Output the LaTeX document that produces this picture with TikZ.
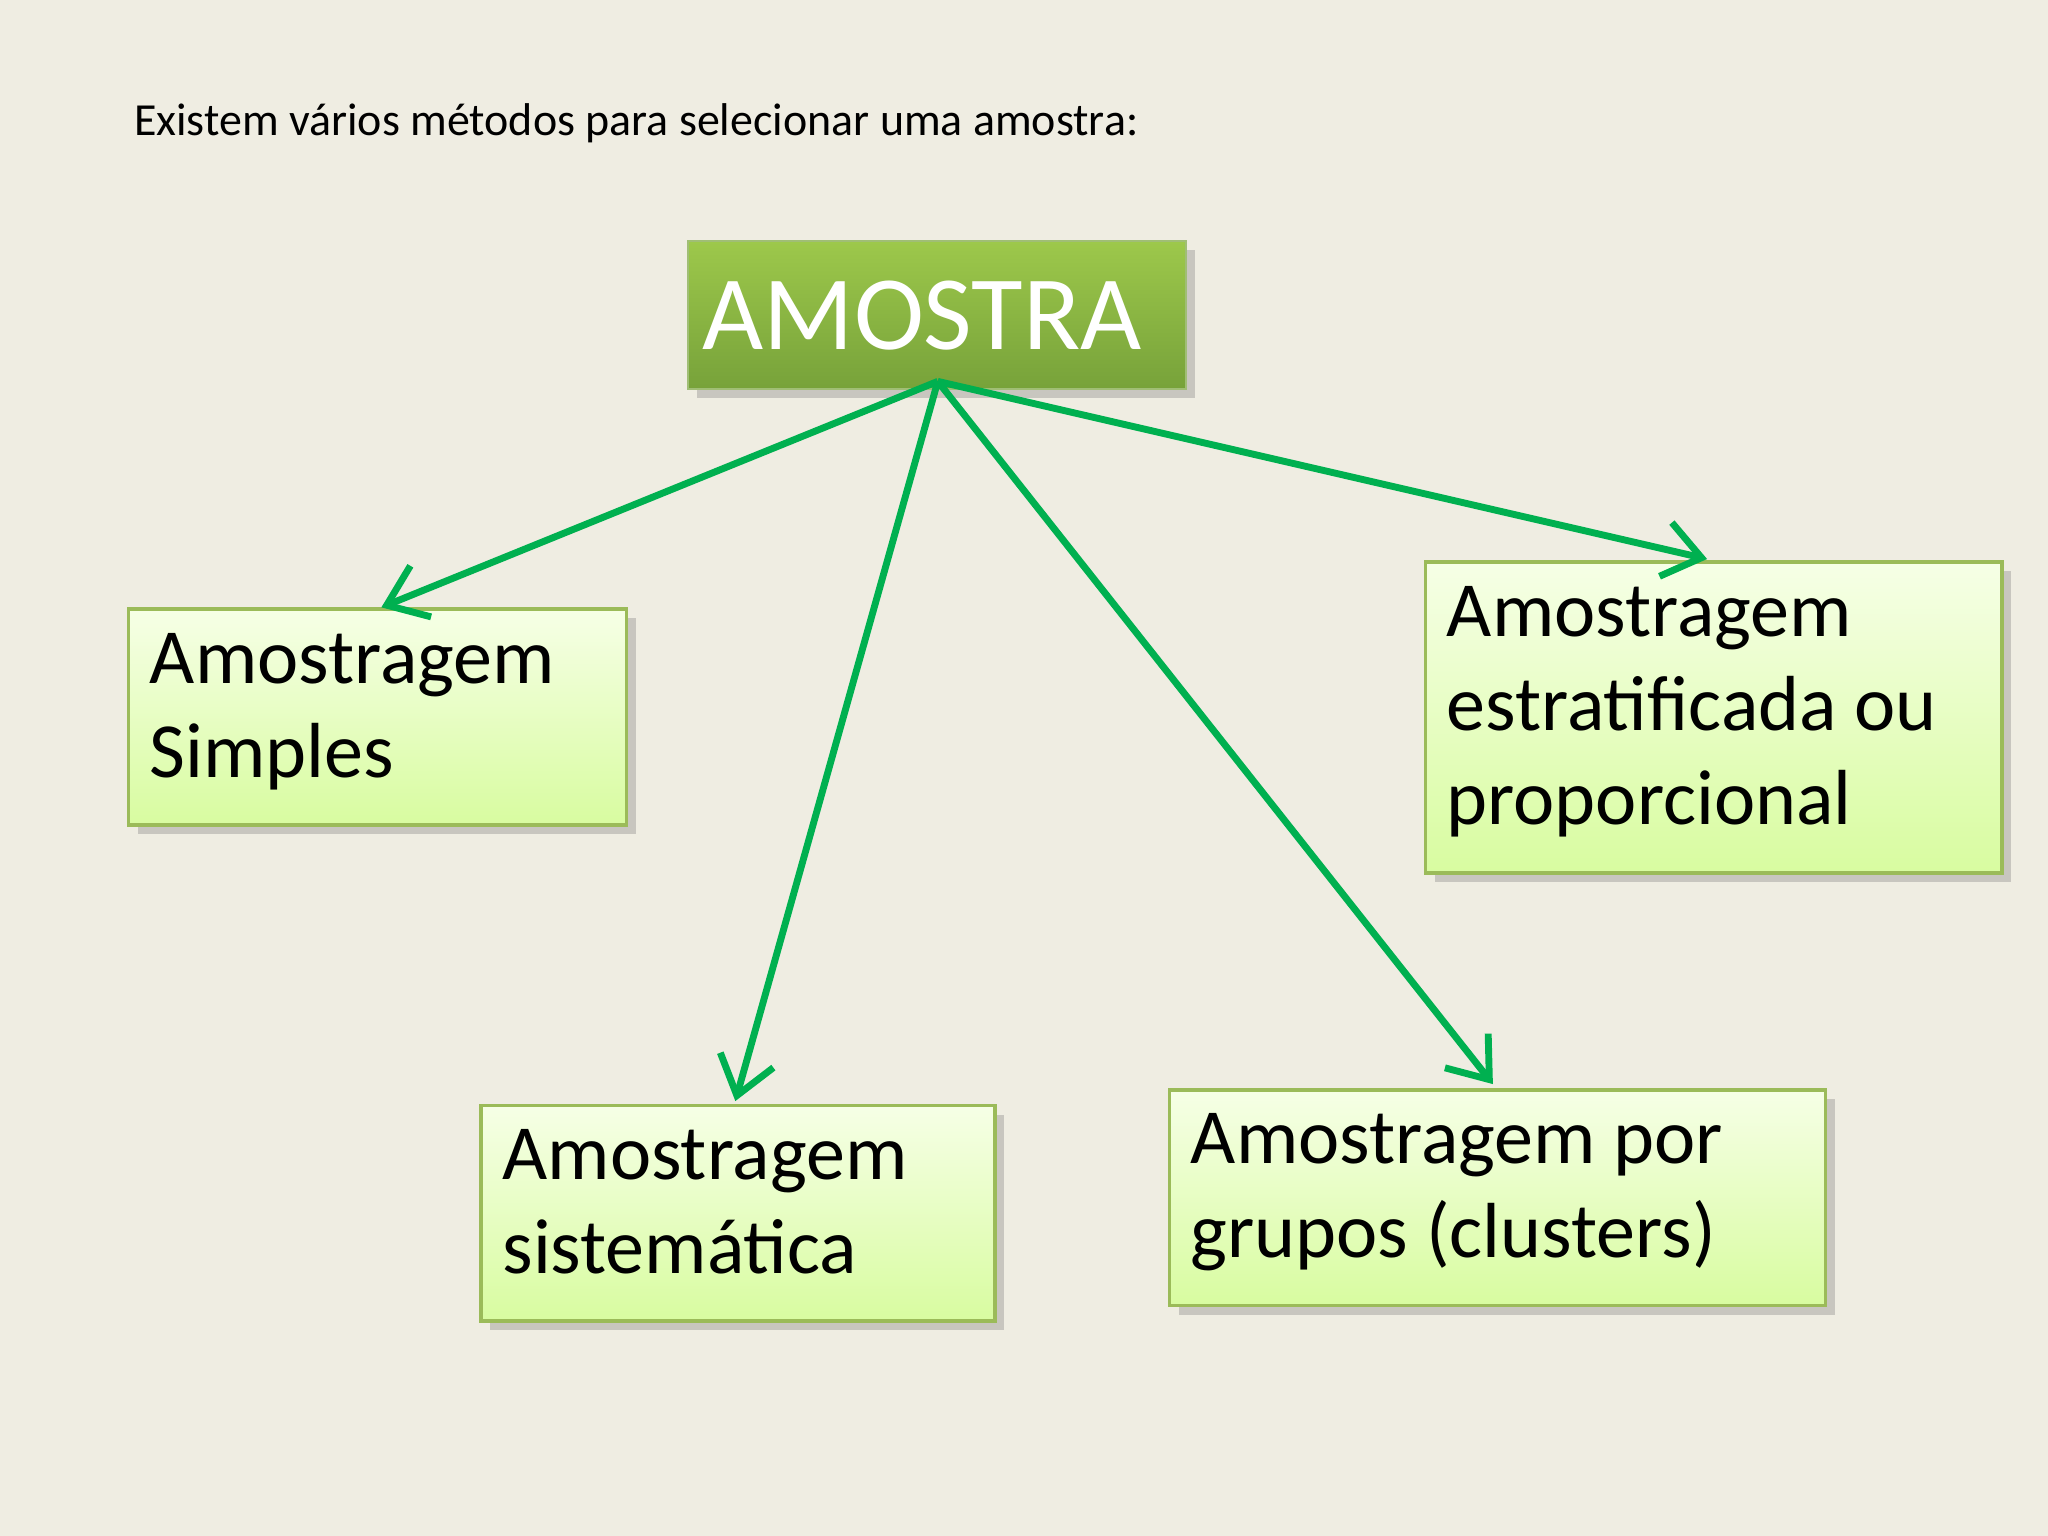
\documentclass[tikz,border=0pt]{standalone}
\usepackage{fontspec}
\setmainfont{Carlito}
\usetikzlibrary{shadows,arrows.meta}
\definecolor{bg}{HTML}{EFEDE2}
\definecolor{arr}{HTML}{00B050}
\definecolor{bord}{HTML}{9BBB59}
\definecolor{lt}{HTML}{F6FFE6}
\definecolor{lb}{HTML}{D8FCA0}
\definecolor{gt}{HTML}{9DC84B}
\definecolor{gb}{HTML}{77A23A}
\tikzset{
 px/.style={x=0.01cm,y=-0.01cm},
 leaf/.style={draw=bord,line width=0.8pt,top color=lt,bottom color=lb,drop shadow={shadow xshift=2pt,shadow yshift=-2pt,opacity=0.35,fill=gray},inner sep=0pt,anchor=north west},
 leaftext/.style={anchor=north west,align=left,font=\fontsize{17}{20.5}\selectfont,inner sep=0pt},
 conn/.style={draw=arr,line width=1.5pt,-{Straight Barb[length=8pt,width=12pt,line width=1.5pt]}}
}
\begin{document}
\begin{tikzpicture}[px]
\useasboundingbox[fill=bg] (0,0) rectangle (1568,1176);
\node[anchor=west,inner sep=0pt,font=\fontsize{10}{12}\selectfont] (title) at (102,94) {Existem vários métodos para selecionar uma amostra:};
\node[draw=gb!70,top color=gt,bottom color=gb,inner sep=0pt,anchor=north west,minimum width=3.81cm,minimum height=1.13cm,drop shadow={shadow xshift=2pt,shadow yshift=-2pt,opacity=0.35,fill=gray}] (root) at (526,184) {};
\node[text=white,font=\fontsize{23}{26}\selectfont,inner sep=0pt] (rootlabel) at (706,242) {AMOSTRA};
\node[leaf,minimum width=3.81cm,minimum height=1.65cm] (a) at (97,465) {};
\node[leaftext] (at) at (114,484) {Amostragem\\Simples};
\node[leaf,minimum width=3.93cm,minimum height=1.65cm] (b) at (367,845) {};
\node[leaftext] (bt) at (384,864) {Amostragem\\sistemática};
\node[leaf,minimum width=5.02cm,minimum height=1.65cm] (c) at (894,833) {};
\node[leaftext] (ct) at (911,852) {Amostragem por\\grupos (clusters)};
\node[leaf,minimum width=4.41cm,minimum height=2.38cm] (d) at (1090,429) {};
\node[leaftext] (dt) at (1107,448) {Amostragem\\estratificada ou\\proporcional};
\coordinate (o) at (718,292);
\coordinate (ea) at (292,465);
\coordinate (eb) at (563,843);
\coordinate (ec) at (1143,830);
\coordinate (ed) at (1307,428);
\draw[conn] (o) -- (ea);
\draw[conn] (o) -- (eb);
\draw[conn] (o) -- (ec);
\draw[conn] (o) -- (ed);
\end{tikzpicture}
\end{document}
